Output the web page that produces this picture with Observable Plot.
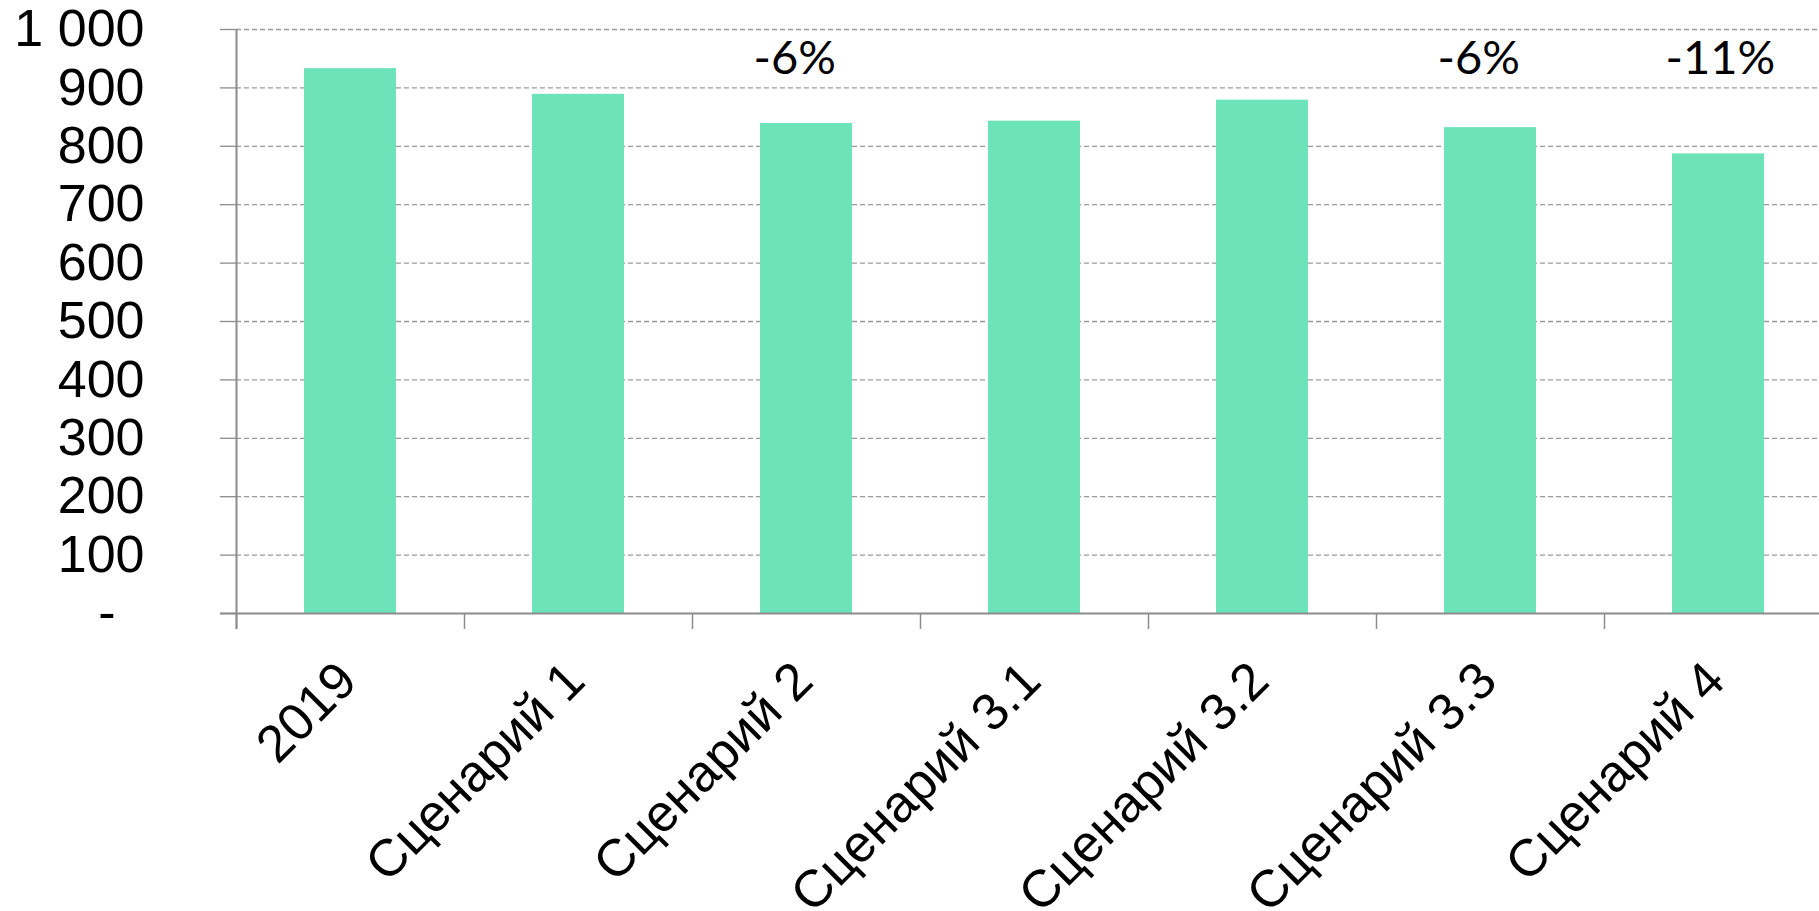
<!DOCTYPE html>
<html>
<head>
<meta charset="utf-8">
<script src="https://cdn.jsdelivr.net/npm/d3@7"></script>
<script src="https://cdn.jsdelivr.net/npm/@observablehq/plot@0.6"></script>
<style>
  html, body { margin: 0; padding: 0; background: #fff; overflow: hidden; }
  #chart svg { display: block; max-width: none !important; }
</style>
</head>
<body>
<div id="chart"></div>
<script>
// Data
const categories = ["2019", "Сценарий 1", "Сценарий 2", "Сценарий 3.1", "Сценарий 3.2", "Сценарий 3.3", "Сценарий 4"];
const values = [933, 889, 839, 843, 879, 832, 787];
const changeCategories = ["Сценарий 2", "Сценарий 3.3", "Сценарий 4"];
const changeLabels = ["-6%", "-6%", "-11%"];
const yTicks = [0, 100, 200, 300, 400, 500, 600, 700, 800, 900, 1000];

const rows = categories.map((c, i) => ({i, category: c, value: values[i]}));
const changes = changeCategories.map((c, k) => ({i: categories.indexOf(c), label: changeLabels[k]}));
const bounds = d3.range(0, categories.length + 1);

const axisGrey = "#8c8c8c";
const arial = "Liberation Sans, Arial, sans-serif";

const chart = Plot.plot({
  width: 1832,
  height: 911,
  marginLeft: 236,
  marginRight: 0,
  marginTop: 29,
  marginBottom: 298,
  style: {fontFamily: arial, background: "#fff", color: "#000", maxWidth: "none"},
  x: {type: "linear", domain: [0, categories.length]},
  y: {domain: [0, 1000]},
  marks: [
    // dashed gridlines
    Plot.ruleY(yTicks.filter(t => t > 0), {stroke: "#9a9a9a", strokeWidth: 1.3, strokeDasharray: "5,3"}),
    // bars
    Plot.rectY(rows, {x1: d => d.i, x2: d => d.i + 1, y: "value", insetLeft: 68, insetRight: 68, fill: "#6de3b9"}),
    // y axis ticks + labels
    Plot.axisY({
      ticks: yTicks,
      label: null,
      tickSize: 16,
      tickPadding: 76,
      tickFormat: d => d === 0 ? "-\u2007" : d3.format(",")(d).replace(/,/g, " "),
      fontSize: 52,
      stroke: axisGrey,
      strokeWidth: 1.3
    }),
    // x axis tick marks at band boundaries
    Plot.axisX({ticks: bounds, label: null, tickSize: 16, tickFormat: () => "", stroke: axisGrey, strokeWidth: 1.5}),
    // axis lines
    Plot.ruleX([0], {y1: 1000, y2: 0, insetBottom: -16, stroke: axisGrey, strokeWidth: 2}),
    Plot.ruleY([0], {insetLeft: -16, stroke: axisGrey, strokeWidth: 2}),
    // category labels
    Plot.text(rows, {
      x: d => d.i + 0.5, y: () => 0, text: "category",
      rotate: -45, textAnchor: "end", lineAnchor: "bottom",
      dx: 9, dy: 70, fontSize: 52, fill: "#000"
    }),
    // change labels
    Plot.text(changes, {
      x: d => d.i + 0.5, frameAnchor: "top", text: "label",
      textAnchor: "start", lineAnchor: "bottom",
      dx: -53, dy: 44, fontSize: 47, fontFamily: "Lato, Carlito, sans-serif", fill: "#000"
    })
  ]
});
document.getElementById("chart").appendChild(chart);
</script>
</body>
</html>
